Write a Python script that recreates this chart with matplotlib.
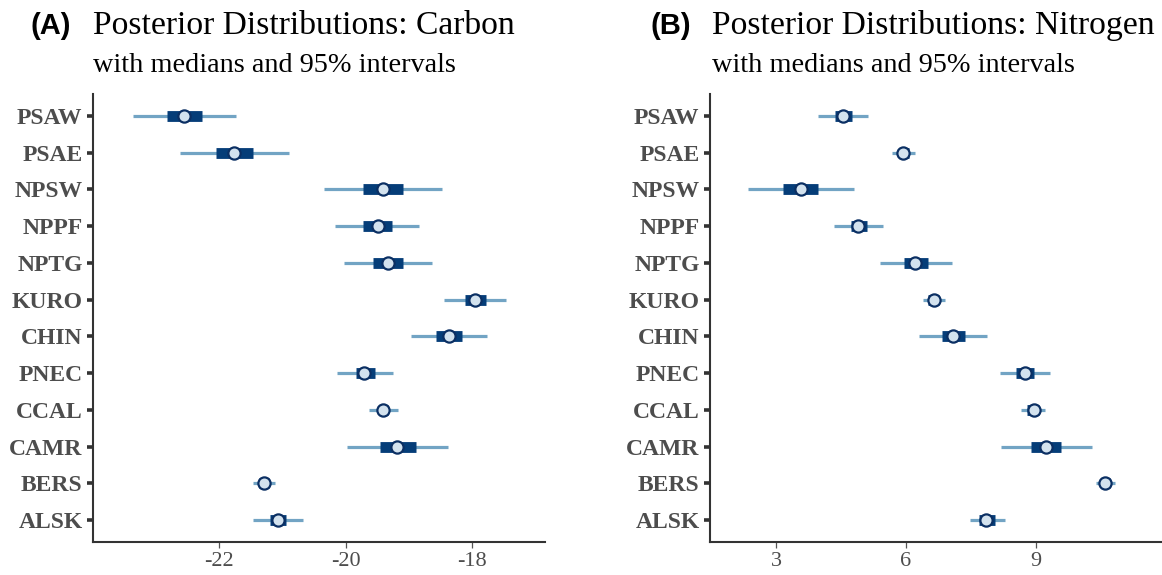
import matplotlib.pyplot as plt

# sites, top to bottom
sites = ['PSAW', 'PSAE', 'NPSW', 'NPPF', 'NPTG', 'KURO',
         'CHIN', 'PNEC', 'CCAL', 'CAMR', 'BERS', 'ALSK']

# carbon: 95% interval, inner interval, median
c_lo95 = [-23.36, -22.62, -20.34, -20.16, -20.03, -18.44, -18.96, -20.14, -19.63, -19.98, -21.47, -21.46]
c_hi95 = [-21.74, -20.89, -18.47, -18.83, -18.63, -17.45, -17.76, -19.25, -19.17, -18.37, -21.11, -20.67]
c_lo50 = [-22.83, -22.05, -19.73, -19.72, -19.57, -18.11, -18.56, -19.84, -19.47, -19.45, -21.37, -21.20]
c_hi50 = [-22.28, -21.46, -19.09, -19.27, -19.09, -17.77, -18.15, -19.54, -19.32, -18.89, -21.21, -20.94]
c_med = [-22.56, -21.76, -19.41, -19.49, -19.33, -17.95, -18.36, -19.70, -19.40, -19.18, -21.29, -21.07]

# nitrogen
n_lo95 = [3.97, 5.67, 2.36, 4.34, 5.40, 6.39, 6.31, 8.17, 8.67, 8.19, 10.40, 7.47]
n_hi95 = [5.12, 6.22, 4.79, 5.46, 7.06, 6.90, 7.88, 9.34, 9.21, 10.30, 10.83, 8.29]
n_lo50 = [4.36, 5.83, 3.15, 4.72, 5.95, 6.52, 6.83, 8.55, 8.80, 8.89, 10.50, 7.69]
n_hi50 = [4.75, 6.06, 3.97, 5.09, 6.50, 6.76, 7.37, 8.96, 9.07, 9.59, 10.72, 8.06]
n_med = [4.54, 5.94, 3.57, 4.90, 6.22, 6.64, 7.09, 8.75, 8.95, 9.24, 10.61, 7.86]

W, H = 1162, 575
fig = plt.figure(figsize=(W / 100, H / 100), dpi=100)

thin_col = '#72a4c4'
box_col = '#053d78'
face_col = '#d3e2ee'
edge_col = '#0b2f63'
txt_grey = '#4d4d4d'


def panel(left, lo95, hi95, lo50, hi50, med, xlim, xticks):
    ax = fig.add_axes([left / W, (H - 542) / H, 452 / W, 448 / H])
    n = len(sites)
    for i in range(n):
        y = n - 1 - i
        ax.plot([lo95[i], hi95[i]], [y, y], color=thin_col, lw=2.3,
                solid_capstyle='butt', zorder=2)
        ax.plot([lo50[i], hi50[i]], [y, y], color=box_col, lw=7.8,
                solid_capstyle='butt', zorder=3)
        ax.plot(med[i], y, 'o', ms=8.8, mfc=face_col, mec=edge_col,
                mew=1.6, zorder=4)
    ax.set_ylim(-0.6, n - 0.4)
    ax.set_yticks(range(n))
    ax.set_yticklabels(sites[::-1], family='Liberation Serif', fontweight='bold',
                       fontsize=17, color=txt_grey)
    ax.set_xlim(*xlim)
    ax.set_xticks(xticks)
    ax.set_xticklabels([str(t) for t in xticks],
                       family='Liberation Serif', fontsize=16, color=txt_grey)
    for s in ['top', 'right']:
        ax.spines[s].set_visible(False)
    for s in ['left', 'bottom']:
        ax.spines[s].set_color('#333333')
        ax.spines[s].set_linewidth(1.5)
    ax.tick_params(axis='y', length=4.5, width=2.6, color='#333333', pad=3)
    ax.tick_params(axis='x', length=4, width=0.9, color='#555555', pad=3)
    return ax


panel(93, c_lo95, c_hi95, c_lo50, c_hi50, c_med, (-24.0, -16.84), [-22, -20, -18])
panel(710, n_lo95, n_hi95, n_lo50, n_hi50, n_med, (1.47, 11.92), [3, 6, 9])

# titles
for tag, tx, title, ttx in [('(A)', 31, 'Posterior Distributions: Carbon', 93),
                            ('(B)', 650, 'Posterior Distributions: Nitrogen', 712)]:
    fig.text(tx / W, 1 - 34 / H, tag, family='Liberation Sans', fontweight='bold',
             fontsize=21, va='baseline', ha='left')
    fig.text(ttx / W, 1 - 34 / H, title, family='Liberation Serif',
             fontsize=24.2, va='baseline', ha='left')
    fig.text(ttx / W, 1 - 72 / H, 'with medians and 95% intervals',
             family='Liberation Serif', fontsize=20.3, va='baseline', ha='left')

fig.savefig('out.png', dpi=100)
